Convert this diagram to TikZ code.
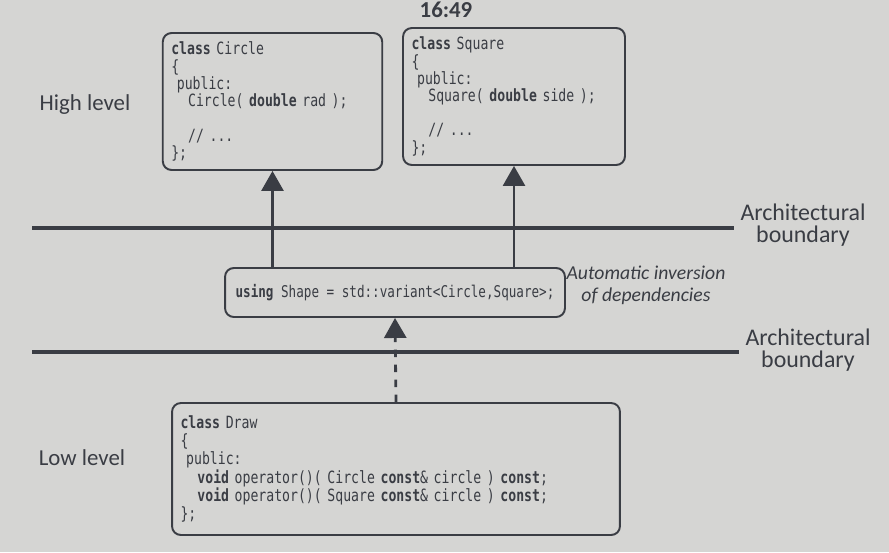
\documentclass[tikz,border=0pt]{standalone}
\usepackage{fontspec}
\setmainfont{Carlito}
\newfontfamily\codefont[FakeStretch=0.78]{DejaVu Sans Mono}
\newcommand\codesize[2]{\codefont\fontsize{#1}{#2}\selectfont
  \fontdimen2\font=\fontcharwd\font`a \fontdimen3\font=0pt \fontdimen4\font=0pt}
\usetikzlibrary{positioning, arrows.meta}
\definecolor{ink}{RGB}{58,61,68}
\definecolor{paper}{RGB}{213,213,211}
\tikzset{arr/.style={-{Triangle[length=0.4cm, width=0.44cm]}}}

\begin{document}
\begin{tikzpicture}[
      x=0.02cm, y=-0.02cm,
      every node/.style={text=ink},
      codebox/.style={draw=ink, fill=paper, line width=1.1pt, rounded corners=5pt,
        align=left, inner xsep=0.17cm, inner ysep=0pt, font=\codesize{9.6}{9.8}},
      levelnote/.style={font=\fontsize{13}{14}\selectfont},
      archnote/.style={align=center, font=\fontsize{13.6}{12.8}\selectfont},
      boundary/.style={draw=ink, line width=2pt},
      up/.style={draw=ink, line width=1.6pt, arr},
      weak/.style={up, dash pattern=on 0.15cm off 0.15cm},
  ]
      \useasboundingbox (0,0) rectangle (889,552);
      \fill[paper] (0,0) rectangle (889,552);

      % Top: clock of the screenshot
      \node[font=\bfseries\fontsize{13}{13}\selectfont] (clock) at (446,10) {16:49};

      % High level: Circle and Square
      \node[codebox, text width=4.05cm, minimum height=2.74cm] (circlecls) at (272.5,101.5)
        {\textbf{class} Circle\\
         \{\\
         \ public:\\
         \ \ \ Circle( \textbf{double} rad );\\
         \mbox{}\\
         \ \ \ // ...\\
         \};};
      \node[codebox, text width=4.1cm, minimum height=2.74cm] (squarecls) at (514,96.5)
        {\textbf{class} Square\\
         \{\\
         \ public:\\
         \ \ \ Square( \textbf{double} side );\\
         \mbox{}\\
         \ \ \ // ...\\
         \};};
      \node[levelnote] (high) at (85,105) {High level};

      % Middle: the variant
      \node[codebox, font=\codesize{9.2}{9.8}, minimum width=6.8cm, minimum height=0.98cm] (shapevar) at (395,292.5)
        {\textbf{using} Shape = std::variant<Circle,Square>;};
      \node[align=center, font=\itshape\fontsize{11.2}{12.5}\selectfont] (inversion) at (646,285)
        {Automatic inversion\\of dependencies};

      % Low level: Draw
      \node[codebox, font=\codesize{9.6}{10.3}, text width=8.62cm, minimum height=2.64cm] (drawcls) at (396,469)
        {\textbf{class} Draw\\
         \{\\
         \ public:\\
         \ \ \ \textbf{void} operator()( Circle \textbf{const}\& circle ) \textbf{const};\\
         \ \ \ \textbf{void} operator()( Square \textbf{const}\& circle ) \textbf{const};\\
         \};};
      \node[levelnote] (low) at (82,458) {Low level};

      % Architectural boundaries
      \node[archnote] (arch1) at (803,225) {Architectural\\boundary};
      \node[archnote] (arch2) at (808,350) {Architectural\\boundary};
      \coordinate (b1) at (32,228);
      \coordinate (b2) at (32,352);
      \draw[boundary] (b1) -- (b1 -| arch1.west);
      \draw[boundary] (b2) -- (b2 -| arch2.west);

      % Variant -> Circle, Square; Draw -> variant
      \draw[up] (circlecls.south |- shapevar.north) -- (circlecls.south);
      \draw[up] (squarecls.south |- shapevar.north) -- (squarecls.south);
      \draw[weak] (drawcls.north) -- (shapevar.south);

\end{tikzpicture}
\end{document}
